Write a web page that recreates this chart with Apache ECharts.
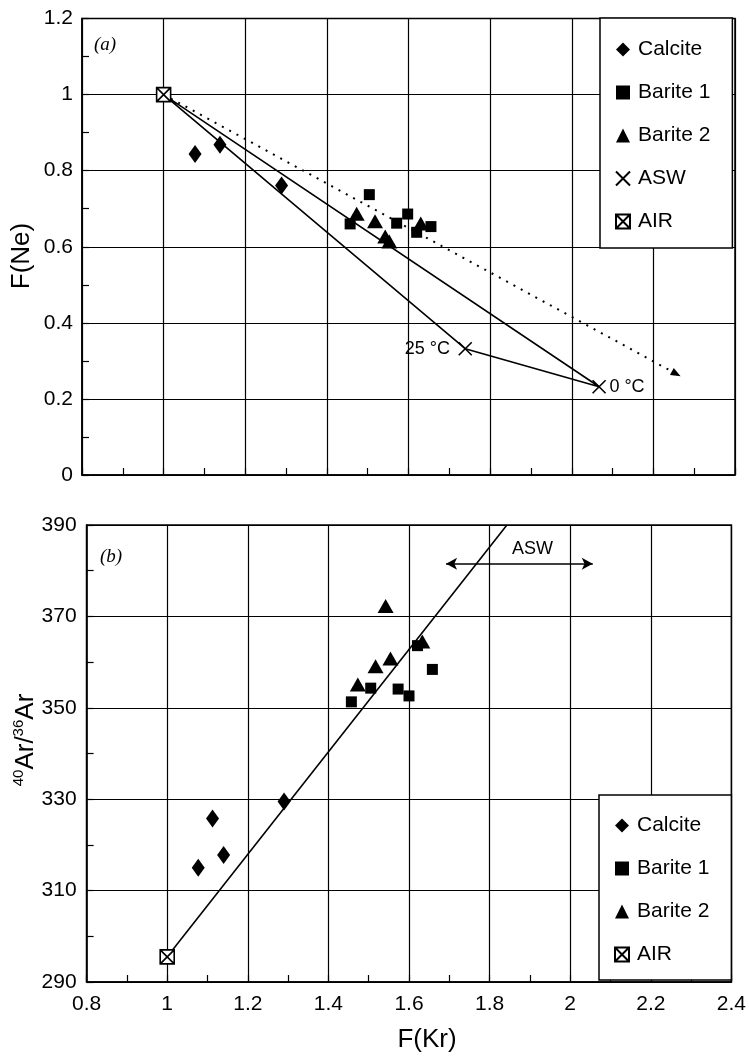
<!DOCTYPE html>
<html><head><meta charset="utf-8">
<script src="https://cdn.jsdelivr.net/npm/echarts/dist/echarts.min.js"></script>
<style>html,body{margin:0;padding:0;background:#fff}#c{width:749px;height:1062px}</style>
</head><body><div id="c"></div>
<script>
const FONT = '"Liberation Sans", Arial, Helvetica, sans-serif';
const SERIF = '"Liberation Serif", "Times New Roman", serif';

// ---------- Panel (a): F(Ne) vs F(Kr) ----------
const calciteA = [[1.077,0.844],[1.138,0.868],[1.289,0.761]];
const barite1A = [[1.457,0.660],[1.504,0.737],[1.571,0.662],[1.598,0.686],[1.620,0.638],[1.655,0.653]];
const barite2A = [[1.473,0.687],[1.518,0.667],[1.543,0.627],[1.553,0.614],[1.630,0.661]];
const aswA = [[1.739,0.332],[2.067,0.232]];
const aswLabels = ['25 °C','0 °C'];
const airA = [[1,1]];
const mixLineA = [[1,1],[1.739,0.332],[2.067,0.232],[1,1]];
const trendA = [[1,1],[2.256,0.266]];

// ---------- Panel (b): 40Ar/36Ar vs F(Kr) ----------
const calciteB = [[1.077,315.0],[1.1125,325.8],[1.140,317.8],[1.290,329.5]];
const barite1B = [[1.457,351.3],[1.505,354.3],[1.573,354.1],[1.600,352.6],[1.621,363.6],[1.658,358.4]];
const barite2B = [[1.473,355.1],[1.517,359.1],[1.542,372.3],[1.554,360.8],[1.633,364.5]];
const airB = [[1,295.5]];
const fitLineB = [[1,295.5],[1.843,390]];
const aswRangeB = [[1.692,381.5],[2.056,381.5]];

// ---------- axes / ticks ----------
const xTickLabels = ['0.8','1','1.2','1.4','1.6','1.8','2','2.2','2.4'];
const yTickLabelsA = ['0','0.2','0.4','0.6','0.8','1','1.2'];
const yTickLabelsB = ['290','310','330','350','370','390'];
const legendA = ['Calcite','Barite 1','Barite 2','ASW','AIR'];
const legendB = ['Calcite','Barite 1','Barite 2','AIR'];

const X_PATH = 'path://M0,0L10,10M10,0L0,10';
const AIR_PATH = 'path://M0,0L10,0L10,10L0,10ZM0,0L10,10M10,0L0,10';

function axisCommon(labels, show, margin) {
  return {
    axisLine: {show: true, onZero: false, lineStyle: {color: '#000', width: 1.5}},
    axisTick: {show: true, inside: true, length: 7, lineStyle: {color: '#000', width: 1.2}},
    minorTick: {show: true, splitNumber: 2, length: 7, lineStyle: {color: '#000', width: 1.2}},
    splitLine: {show: true, lineStyle: {color: '#000', width: 1.2}},
    axisLabel: {show: show, fontSize: 21, color: '#000', fontFamily: FONT, margin: margin,
      formatter: (v, i) => labels[i] !== undefined ? labels[i] : String(v)}
  };
}

const markerStyle = {color: '#000', opacity: 1};
function pointSeries(name, xi, data, symbol, size, extra) {
  return Object.assign({
    name, type: 'scatter', xAxisIndex: xi, yAxisIndex: xi, data,
    symbol, symbolSize: size, itemStyle: markerStyle, z: 5, silent: true
  }, extra || {});
}

const option = {
  animation: false,
  backgroundColor: '#fff',
  grid: [
    {left: 82, top: 18.5, width: 653, height: 456.5, show: true, borderColor: '#000', borderWidth: 1.5},
    {left: 86.6, top: 525, width: 645.7, height: 457, show: true, borderColor: '#000', borderWidth: 1.5}
  ],
  xAxis: [
    Object.assign({type: 'value', gridIndex: 0, min: 0.8, max: 2.4, interval: 0.2}, axisCommon(xTickLabels, false, 12)),
    Object.assign({type: 'value', gridIndex: 1, min: 0.8, max: 2.4, interval: 0.2}, axisCommon(xTickLabels, true, 12))
  ],
  yAxis: [
    Object.assign({type: 'value', gridIndex: 0, min: 0, max: 1.2, interval: 0.2}, axisCommon(yTickLabelsA, true, 9)),
    Object.assign({type: 'value', gridIndex: 1, min: 290, max: 390, interval: 20}, axisCommon(yTickLabelsB, true, 10))
  ],
  legend: [
    {data: legendA, orient: 'vertical', left: 600, top: 18, selectedMode: false,
     backgroundColor: '#fff', borderColor: '#000', borderWidth: 1.5, padding: [21, 22, 16, 15],
     itemGap: 22, itemWidth: 14, itemHeight: 14, z: 10,
     textStyle: {fontSize: 21, color: '#000', fontFamily: FONT, padding: [0, 0, 0, 3]}},
    {data: legendB, orient: 'vertical', left: 599, top: 795, selectedMode: false,
     backgroundColor: '#fff', borderColor: '#000', borderWidth: 1.5, padding: [20, 22, 15, 15],
     itemGap: 22, itemWidth: 14, itemHeight: 14, z: 10,
     textStyle: {fontSize: 21, color: '#000', fontFamily: FONT, padding: [0, 0, 0, 3]}}
  ],
  graphic: [
    {type: 'text', x: 94, y: 45, style: {text: '(a)', font: 'italic 19px ' + SERIF, fill: '#000', textVerticalAlign: 'middle'}},
    {type: 'text', x: 100, y: 557, style: {text: '(b)', font: 'italic 19px ' + SERIF, fill: '#000', textVerticalAlign: 'middle'}},
    {type: 'text', x: 22, y: 256, rotation: Math.PI / 2,
     style: {text: 'F(Ne)', font: '26px ' + FONT, fill: '#000', textAlign: 'center', textVerticalAlign: 'middle'}},
    {type: 'text', x: 26, y: 740, rotation: Math.PI / 2,
     style: {text: '{s|40}{n|Ar/}{s|36}{n|Ar}', fill: '#000', textAlign: 'center', textVerticalAlign: 'middle',
       rich: {s: {fontSize: 15, fontFamily: FONT, fill: '#000', padding: [0, 0, 14, 0]},
              n: {fontSize: 26, fontFamily: FONT, fill: '#000'}}}},
    {type: 'text', x: 427, y: 1040,
     style: {text: 'F(Kr)', font: '26px ' + FONT, fill: '#000', textAlign: 'center', textVerticalAlign: 'middle'}}
  ],
  series: [
    // panel (a)
    {type: 'line', xAxisIndex: 0, yAxisIndex: 0, data: mixLineA, symbol: 'none', silent: true, z: 3,
     lineStyle: {color: '#000', width: 1.6}},
    {type: 'line', xAxisIndex: 0, yAxisIndex: 0, data: [], silent: true, z: 3,
     markLine: {silent: true, animation: false, symbol: ['none', 'triangle'], symbolSize: [8, 10],
       label: {show: false}, lineStyle: {color: '#000', width: 2, type: [2, 6.3]},
       data: [[{coord: trendA[0]}, {coord: trendA[1]}]]}},
    pointSeries('Calcite', 0, calciteA, 'diamond', [13, 18]),
    pointSeries('Barite 1', 0, barite1A, 'rect', 11),
    pointSeries('Barite 2', 0, barite2A, 'triangle', [16, 14]),
    pointSeries('ASW', 0, aswA.map((d, i) => ({value: d,
        label: {position: i === 0 ? 'left' : 'right', distance: i === 0 ? 8 : 3}})), X_PATH, 13,
      {itemStyle: {color: 'transparent', borderColor: '#000', borderWidth: 1.6, opacity: 1},
       label: {show: true, fontSize: 18, color: '#000', fontFamily: FONT, textBorderWidth: 0,
         formatter: p => aswLabels[p.dataIndex]}}),
    pointSeries('AIR', 0, airA, AIR_PATH, 14,
      {itemStyle: {color: '#fff', borderColor: '#000', borderWidth: 1.6, opacity: 1}}),
    // panel (b)
    {type: 'line', xAxisIndex: 1, yAxisIndex: 1, data: fitLineB, symbol: 'none', silent: true, z: 3,
     lineStyle: {color: '#000', width: 1.6}},
    {type: 'line', xAxisIndex: 1, yAxisIndex: 1, data: [], silent: true, z: 3,
     markLine: {silent: true, animation: false, symbol: ['arrow', 'arrow'], symbolSize: [9, 11],
       lineStyle: {color: '#000', width: 1.6, type: 'solid'},
       label: {show: true, position: 'middle', formatter: 'ASW', fontSize: 18, color: '#000', fontFamily: FONT,
         textBorderWidth: 0, distance: 6, padding: [0, 0, 0, 26]},
       data: [[{coord: aswRangeB[0]}, {coord: aswRangeB[1]}]]}},
    pointSeries('Calcite', 1, calciteB, 'diamond', [13, 18]),
    pointSeries('Barite 1', 1, barite1B, 'rect', 11),
    pointSeries('Barite 2', 1, barite2B, 'triangle', [16, 14]),
    pointSeries('AIR', 1, airB, AIR_PATH, 14,
      {itemStyle: {color: '#fff', borderColor: '#000', borderWidth: 1.6, opacity: 1}})
  ]
};
const chart = echarts.init(document.getElementById('c'), null, {renderer: 'canvas'});
chart.setOption(option);
</script></body></html>
